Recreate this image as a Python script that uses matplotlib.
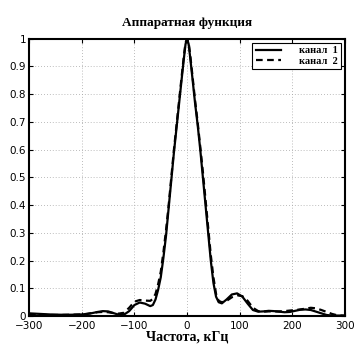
import matplotlib
matplotlib.use("Agg")
import matplotlib.pyplot as plt

# channel 1 (solid)
freq1 = [-300, -280, -260, -240, -220, -200, -190, -180, -170, -160, -150, -140, -130, -120,
         -110, -100, -90, -80, -70, -65, -60, -55, -50, -45, -40, -35, -30, -25, -20, -15,
         -10, -6, -3, 0, 3, 6, 10, 15, 20, 25, 30, 35, 40, 45, 50, 55, 60, 66, 75, 85, 95, 105,
         115, 125, 135, 145, 155, 165, 175, 185, 195, 205, 215, 225, 235, 245, 255, 265,
         275, 285, 300]
amp1 = [0.010, 0.008, 0.006, 0.005, 0.005, 0.006, 0.008, 0.011, 0.015, 0.018, 0.017, 0.011,
        0.005, 0.005, 0.018, 0.040, 0.049, 0.045, 0.036, 0.040, 0.060, 0.095, 0.14, 0.21,
        0.29, 0.39, 0.49, 0.59, 0.68, 0.77, 0.86, 0.93, 0.98, 1.0, 0.98, 0.93, 0.86, 0.77,
        0.69, 0.60, 0.50, 0.40, 0.30, 0.20, 0.12, 0.07, 0.05, 0.046, 0.060, 0.078, 0.082,
        0.070, 0.045, 0.022, 0.016, 0.017, 0.019, 0.018, 0.016, 0.014, 0.015, 0.019, 0.023,
        0.024, 0.022, 0.016, 0.010, 0.004, 0.002, 0.002, 0.002]

# channel 2 (dashed)
freq2 = freq1
amp2 = [0.004, 0.004, 0.004, 0.004, 0.005, 0.006, 0.008, 0.011, 0.014, 0.015, 0.014, 0.011,
        0.009, 0.012, 0.030, 0.052, 0.058, 0.056, 0.055, 0.062, 0.080, 0.115, 0.16, 0.23,
        0.31, 0.40, 0.50, 0.60, 0.69, 0.78, 0.87, 0.94, 0.985, 1.0, 0.985, 0.94, 0.87, 0.78,
        0.70, 0.61, 0.52, 0.42, 0.32, 0.22, 0.14, 0.08, 0.055, 0.05, 0.055, 0.068, 0.075,
        0.072, 0.055, 0.030, 0.018, 0.016, 0.017, 0.017, 0.017, 0.018, 0.020, 0.022, 0.024,
        0.027, 0.030, 0.028, 0.022, 0.015, 0.008, 0.003, 0.001]

xticks = [-300, -200, -100, 0, 100, 200, 300]
yticks = [0, 0.1, 0.2, 0.3, 0.4, 0.5, 0.6, 0.7, 0.8, 0.9, 1]
ytick_labels = ["0", "0.1", "0.2", "0.3", "0.4", "0.5", "0.6", "0.7", "0.8", "0.9", "1"]

SERIF = ["Liberation Serif", "DejaVu Serif"]

fig = plt.figure(figsize=(3.64, 3.58), dpi=100)
ax = fig.add_axes([0.080, 0.117, 0.868, 0.775])

ax.plot(freq1, amp1, color="black", linewidth=1.6, label="канал  1")
ax.plot(freq2, amp2, color="black", linewidth=1.6, linestyle=(0, (3, 2)), label="канал  2")

ax.set_xlim(-300, 300)
ax.set_ylim(0, 1)
ax.set_xticks(xticks)
ax.set_yticks(yticks)
ax.set_yticklabels(ytick_labels)
ax.tick_params(direction="in", top=True, right=True, labelsize=7.5, length=3, width=0.8)
ax.tick_params(axis="x", pad=3.5)
ax.tick_params(axis="y", pad=2)
ax.grid(True, color="0.65", linestyle=(0, (1, 2.5)), linewidth=0.6)
for s in ax.spines.values():
    s.set_linewidth(1.5)

ax.set_title("Аппаратная функция", fontfamily=SERIF, fontweight="bold", fontsize=9.5, pad=9)
ax.set_xlabel("Частота, кГц", fontfamily=SERIF, fontweight="bold", fontsize=10, labelpad=0)

leg = ax.legend(loc="upper right", bbox_to_anchor=(0.988, 0.985), borderaxespad=0,
                fancybox=False, framealpha=1, edgecolor="black", handlelength=2.4,
                handletextpad=1.8, borderpad=0.3, labelspacing=0.1,
                prop={"family": SERIF, "weight": "bold", "size": 7.5})
leg.get_frame().set_linewidth(0.8)

fig.savefig("out.png", dpi=100)
